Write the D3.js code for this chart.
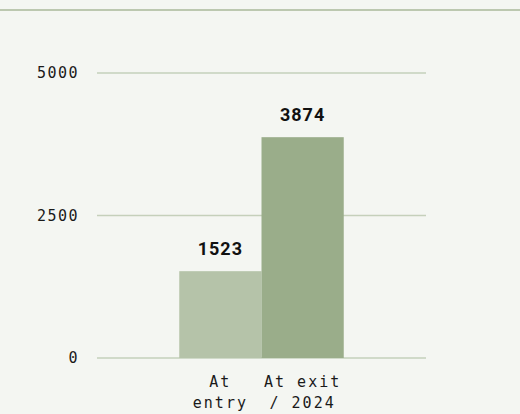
<!DOCTYPE html>
<html>
<head>
<script src="https://d3js.org/d3.v7.min.js"></script>
<style>
  body { margin: 0; background: #f4f6f2; }
</style>
</head>
<body>
<svg id="chart" width="520" height="414"></svg>
<script>
// data
const categories = [["At", "entry"], ["At exit", "/ 2024"]];
const values = [1523, 3874];
const barColors = ["#b5c3a9", "#9aad8a"];
const yTicks = [0, 2500, 5000];

const svg = d3.select("#chart");

// rule across the top
svg.append("line")
   .attr("x1", 0).attr("x2", 520)
   .attr("y1", 10).attr("y2", 10)
   .attr("stroke", "#bcc8b0")
   .attr("stroke-width", 2);

const x = d3.scaleBand()
            .domain(d3.range(values.length))
            .range([97, 426])
            .paddingInner(0)
            .paddingOuter(1);
const y = d3.scaleLinear().domain([0, 5000]).range([358, 73]);

// grid lines + tick labels
const grid = svg.append("g");
grid.selectAll("line")
    .data(yTicks)
    .join("line")
    .attr("x1", 97).attr("x2", 426)
    .attr("y1", d => y(d)).attr("y2", d => y(d))
    .attr("stroke", "#c5d0bb")
    .attr("stroke-width", 1.5);
grid.selectAll("text")
    .data(yTicks)
    .join("text")
    .attr("x", 79)
    .attr("y", d => y(d))
    .attr("dy", "0.35em")
    .attr("text-anchor", "end")
    .style("font-family", "'DejaVu Sans Mono', monospace")
    .style("font-size", "15px")
    .style("letter-spacing", "1.5px")
    .attr("fill", "#1a1a1a")
    .text(d => d);

// bars
svg.append("g").selectAll("rect")
   .data(values)
   .join("rect")
   .attr("x", (d, i) => x(i))
   .attr("width", x.bandwidth())
   .attr("y", d => y(d))
   .attr("height", d => y(0) - y(d))
   .attr("fill", (d, i) => barColors[i]);

// value labels
svg.append("g").selectAll("text")
   .data(values)
   .join("text")
   .attr("x", (d, i) => x(i) + x.bandwidth() / 2)
   .attr("y", d => y(d) - 16)
   .attr("text-anchor", "middle")
   .style("font-family", "Roboto, sans-serif")
   .style("font-weight", "700")
   .style("font-size", "18px")
   .style("letter-spacing", "1px")
   .attr("fill", "#111")
   .text(d => d);

// category labels
const cat = svg.append("g").selectAll("text")
   .data(categories)
   .join("text")
   .attr("x", (d, i) => x(i) + x.bandwidth() / 2)
   .attr("y", 387)
   .attr("text-anchor", "middle")
   .style("font-family", "'DejaVu Sans Mono', monospace")
   .style("font-size", "15px")
   .style("letter-spacing", "2px")
   .attr("fill", "#1a1a1a");
cat.selectAll("tspan")
   .data(d => d)
   .join("tspan")
   .attr("x", function() { return d3.select(this.parentNode).attr("x"); })
   .attr("dy", (d, i) => i === 0 ? 0 : 21)
   .text(d => d);
</script>
</body>
</html>
